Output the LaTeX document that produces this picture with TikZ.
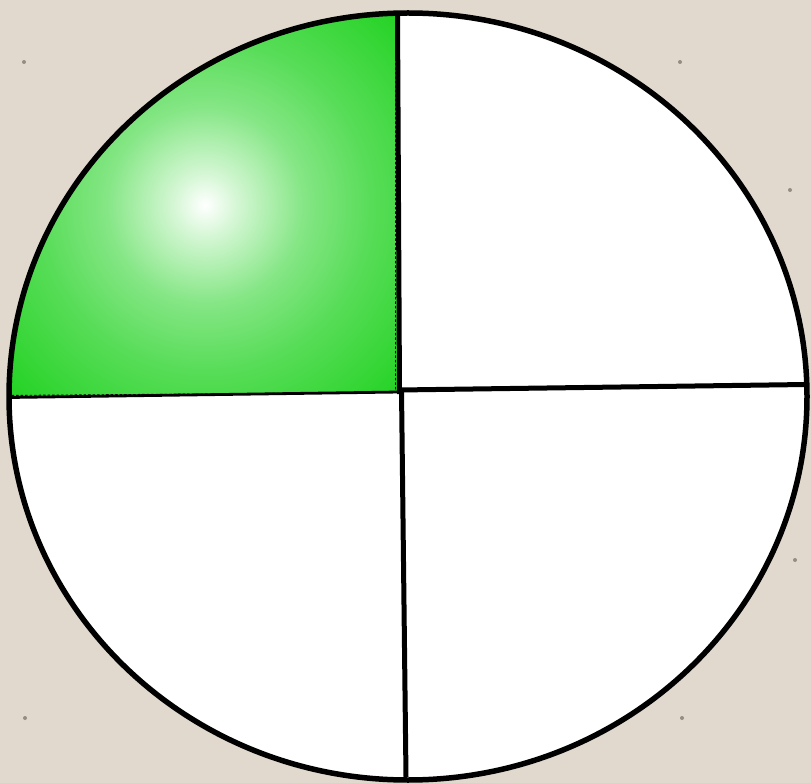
\documentclass[tikz,border=0pt]{standalone}
\usetikzlibrary{calc}
\definecolor{paper}{RGB}{225,217,205}
\definecolor{speck}{RGB}{150,140,128}
\definecolor{leafgreen}{RGB}{10,205,10}
\definecolor{deepgreen}{RGB}{0,196,0}
\pgfdeclareradialshading{greenglow}{\pgfpoint{0bp}{0bp}}{%
  color(0bp)=(white);
  color(3bp)=(leafgreen!18!white);
  color(9bp)=(leafgreen!50!white);
  color(15bp)=(leafgreen!68!white);
  color(24bp)=(leafgreen!88!white);
  color(33bp)=(leafgreen);
  color(50bp)=(deepgreen)}
\tikzset{
  rim/.style={line width=5.5pt, draw=black},
  divider/.style={line width=5pt, draw=black, line cap=butt},
  thindivider/.style={line width=2.8pt, draw=black},
  quadedge/.style={line width=0.9pt, draw=black, dashed, dash pattern=on 2.5pt off 2pt},
}
\begin{document}
\begin{tikzpicture}[x=1pt,y=-1pt]
  % background
  \fill[paper] (0,0) rectangle (811,783);
  \useasboundingbox (0,0) rectangle (811,783);
  \foreach \p in {(24,62),(680,62),(682,718),(25,718),(790,190),(795,560)}
    \fill[speck] \p circle[radius=2pt];

  % key points
  \coordinate (C) at (408,396.5);
  \coordinate (top) at (397.5,13);
  \coordinate (mid) at (400,392);
  \coordinate (left) at (9,397.5);
  \coordinate (right) at (806,384.5);
  \coordinate (bottom) at (406,777);

  % disc
  \fill[white] (C) ellipse [x radius=399pt, y radius=383.5pt];

  % green quadrant
  \begin{scope}
    \clip (C) ellipse [x radius=399pt, y radius=383.5pt];
    \clip (0,0) -- (397.5,0) -- (mid) -- (0,397.5) -- cycle;
    \shade[shading=greenglow] (205,205) circle[radius=275pt];
    \draw[quadedge] (395.5,0) -- (395.5,392.5) -- (0,395.5);
  \end{scope}

  % dividers
  \draw[thindivider] (left) -- (mid);
  \draw[divider] (top) -- (399.5,394);
  \draw[divider] (401.5,390) -- (bottom);
  \draw[divider] (399,390) -- (right);

  % rim
  \draw[rim] (C) ellipse [x radius=399pt, y radius=383.5pt];
\end{tikzpicture}
\end{document}
